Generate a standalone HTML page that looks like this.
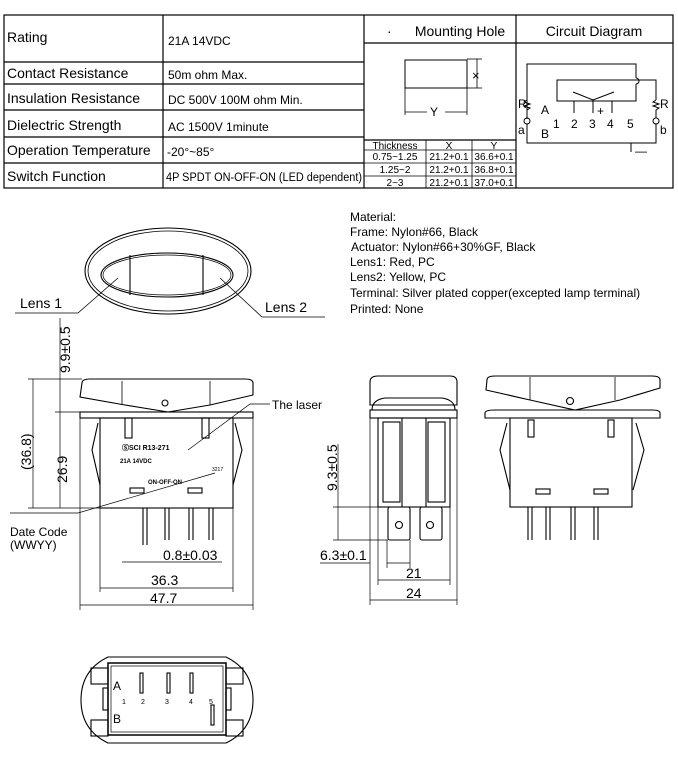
<!DOCTYPE html>
<html><head><meta charset="utf-8"><style>
html,body{margin:0;padding:0;background:#fff;}
svg{display:block;font-family:"Liberation Sans",Arial,sans-serif;}
</style></head><body>
<svg width="678" height="763" viewBox="0 0 678 763" xmlns="http://www.w3.org/2000/svg">
<g stroke="#000" fill="none" stroke-width="1.2">
<!-- table -->
<rect x="4" y="15" width="669" height="173"/>
<line x1="163" y1="15" x2="163" y2="188"/>
<line x1="364" y1="15" x2="364" y2="188"/>
<line x1="516" y1="15" x2="516" y2="188"/>
<line x1="4" y1="62" x2="364" y2="62"/>
<line x1="4" y1="84" x2="364" y2="84"/>
<line x1="4" y1="110" x2="364" y2="110"/>
<line x1="4" y1="137" x2="364" y2="137"/>
<line x1="4" y1="163" x2="364" y2="163"/>
<line x1="364" y1="43" x2="673" y2="43"/>
<line x1="364" y1="140" x2="516" y2="140"/>
<line x1="364" y1="150" x2="516" y2="150" stroke-width="0.8"/>
<line x1="364" y1="163" x2="516" y2="163" stroke-width="0.8"/>
<line x1="364" y1="176" x2="516" y2="176" stroke-width="0.8"/>
<line x1="426" y1="140" x2="426" y2="188" stroke-width="0.8"/>
<line x1="472" y1="140" x2="472" y2="188" stroke-width="0.8"/>
<!-- mounting hole -->
<rect x="405" y="60" width="62" height="28" stroke-width="1"/>
<line x1="467" y1="59" x2="482" y2="59" stroke-width="0.8"/>
<line x1="467" y1="88" x2="482" y2="88" stroke-width="0.8"/>
<line x1="477" y1="59" x2="477" y2="88" stroke-width="0.8"/>
<line x1="405" y1="88" x2="405" y2="115" stroke-width="0.8"/>
<line x1="467" y1="88" x2="467" y2="115" stroke-width="0.8"/>
<line x1="405" y1="112" x2="427" y2="112" stroke-width="0.8"/>
<line x1="445" y1="112" x2="467" y2="112" stroke-width="0.8"/>
<!-- circuit -->
<g stroke-width="1">
<polyline points="527,119 527,64 636,64 636,78"/>
<path d="M636,78 a3,3 0 0 1 0,6"/>
<polyline points="636,84 636,101 557,101 557,80 656,80 656,100"/>
<polyline points="656,100 653,102 659,104 653,106 659,108 656,110 656,118"/>
<polyline points="527,100 524,102 530,104 524,106 530,108 527,110"/>
<circle cx="527" cy="121" r="3"/><circle cx="656" cy="121" r="3"/>
<polyline points="527,124 527,143 656,143 656,124"/>
<line x1="631" y1="143" x2="631" y2="152"/>
<polyline points="573,92 593,100 614,92"/>
<line x1="574" y1="101" x2="574" y2="113"/><line x1="593" y1="100" x2="593" y2="113"/><line x1="612" y1="101" x2="612" y2="113"/>
</g>
</g>
<g font-size="14" fill="#000">
<text x="7" y="42">Rating</text>
<text x="7" y="78">Contact Resistance</text>
<text x="7" y="103">Insulation Resistance</text>
<text x="7" y="130">Dielectric Strength</text>
<text x="7" y="155">Operation Temperature</text>
<text x="7" y="181">Switch Function</text>
<text x="460" y="36" text-anchor="middle">Mounting Hole</text>
<text x="387" y="36">·</text>
<text x="594" y="36" text-anchor="middle">Circuit Diagram</text>
</g>
<g font-size="12" fill="#000">
<text x="168" y="45">21A 14VDC</text>
<text x="168" y="79">50m ohm Max.</text>
<text x="168" y="104">DC 500V 100M ohm Min.</text>
<text x="168" y="131">AC 1500V 1minute</text>
<text x="167" y="156">-20°~85°</text>
<text x="166" y="181" font-size="11.5" textLength="196" lengthAdjust="spacingAndGlyphs">4P SPDT ON-OFF-ON (LED dependent)</text>
<text x="472" y="80" font-size="13">×</text>
<text x="430" y="116" font-size="12">Y</text>
</g>
<g font-size="10" fill="#000" text-anchor="middle">
<text x="395" y="149">Thickness</text><text x="449" y="149">X</text><text x="494" y="149">Y</text>
<text x="395" y="160">0.75~1.25</text><text x="449" y="160">21.2+0.1</text><text x="494" y="160">36.6+0.1</text>
<text x="395" y="173">1.25~2</text><text x="449" y="173">21.2+0.1</text><text x="494" y="173">36.8+0.1</text>
<text x="395" y="186">2~3</text><text x="449" y="186">21.2+0.1</text><text x="494" y="186">37.0+0.1</text>
</g>
<g font-size="12" fill="#000">
<text x="518" y="108">R</text><text x="660" y="108">R</text>
<text x="541" y="114">A</text><text x="541" y="138">B</text>
<text x="518" y="134">a</text><text x="660" y="134">b</text>
<text x="553" y="128">1</text><text x="571" y="128">2</text><text x="589" y="128">3</text><text x="607" y="128">4</text><text x="627" y="128">5</text>
<text x="597" y="115">+</text><text x="635" y="155">—</text>
</g>
<!-- material -->
<g font-size="12" fill="#000">
<text x="350" y="221">Material:</text>
<text x="350" y="236">Frame: Nylon#66, Black</text>
<text x="351" y="251">Actuator: Nylon#66+30%GF, Black</text>
<text x="350" y="266">Lens1: Red, PC</text>
<text x="350" y="281">Lens2: Yellow, PC</text>
<text x="350" y="297">Terminal: Silver plated copper(excepted lamp terminal)</text>
<text x="350" y="313">Printed: None</text>
</g>
<g stroke="#000" fill="none" stroke-width="1.1">
<!-- top view -->
<ellipse cx="168" cy="271" rx="83" ry="43"/>
<ellipse cx="168" cy="271" rx="80" ry="40" stroke-width="0.8"/>
<ellipse cx="167" cy="275" rx="66" ry="22"/>
<ellipse cx="167" cy="275" rx="64" ry="20" stroke-width="0.7"/>
<line x1="130" y1="255" x2="130" y2="295"/><line x1="203" y1="255" x2="203" y2="295"/>
<polyline points="15,313 78,313 118,278" stroke-width="0.8"/>
<polyline points="325,317 262,317 220,278" stroke-width="0.8"/>
<!-- front view -->
<path d="M82,383 Q82,379 90,379 L245,379 Q253,379 253,383 L253,395 L210,405 L168,412 L125,405 L80,397 Z"/>
<line x1="122" y1="381" x2="122" y2="405" stroke-width="0.8"/><line x1="210" y1="381" x2="210" y2="405" stroke-width="0.8"/>
<circle cx="165" cy="403" r="3"/>
<rect x="80" y="412" width="173" height="6"/>
<rect x="100" y="418" width="133" height="90"/>
<rect x="125" y="418" width="7" height="20"/><rect x="202" y="418" width="7" height="20"/>
<path d="M98,423 L92,450 L100,485" /><path d="M235,423 L242,450 L233,485"/>
<rect x="130" y="488" width="14" height="5"/><rect x="188" y="488" width="14" height="5"/>
<line x1="143" y1="508" x2="143" y2="545"/><line x1="147" y1="508" x2="147" y2="545"/>
<line x1="165" y1="508" x2="165" y2="540"/><line x1="169" y1="508" x2="169" y2="540"/>
<line x1="189" y1="508" x2="189" y2="540"/><line x1="193" y1="508" x2="193" y2="540"/>
<line x1="209" y1="508" x2="209" y2="540"/><line x1="213" y1="508" x2="213" y2="540"/>
<g stroke-width="0.7">
<line x1="60" y1="318" x2="60" y2="508"/>
<line x1="33" y1="379" x2="33" y2="508"/>
<line x1="28" y1="379" x2="82" y2="379"/>
<line x1="55" y1="412" x2="80" y2="412"/>
<line x1="28" y1="508" x2="100" y2="508"/>
<line x1="80" y1="418" x2="80" y2="610"/><line x1="253" y1="418" x2="253" y2="610"/>
<line x1="100" y1="508" x2="100" y2="592"/><line x1="233" y1="508" x2="233" y2="592"/>
<line x1="100" y1="588" x2="233" y2="588"/>
<line x1="80" y1="605" x2="253" y2="605"/>
<line x1="122" y1="562" x2="222" y2="562"/>
<polyline points="270,404 250,404 188,450"/>
<polyline points="10,513 78,513 215,473"/>
</g>
<!-- side view -->
<path d="M370,382 Q370,376 378,376 L450,376 Q457,376 457,382 L457,405 L370,405 Z"/>
<path d="M372,410 Q372,400 385,398 L442,398 Q455,400 455,410"/>
<rect x="370" y="410" width="87" height="8"/>
<rect x="378" y="418" width="72" height="89"/>
<rect x="383" y="422" width="17" height="80"/><rect x="428" y="422" width="17" height="80"/>
<line x1="402" y1="418" x2="402" y2="507"/><line x1="426" y1="418" x2="426" y2="507"/>
<rect x="388" y="507" width="22" height="33" rx="2"/><rect x="420" y="507" width="22" height="33" rx="2"/>
<circle cx="399" cy="525" r="3.5"/><circle cx="430" cy="525" r="3.5"/>
<g stroke-width="0.7">
<line x1="338" y1="444" x2="338" y2="540"/>
<line x1="333" y1="507" x2="378" y2="507"/>
<line x1="333" y1="540" x2="388" y2="540"/>
<line x1="320" y1="563" x2="370" y2="563"/>
<line x1="387" y1="540" x2="387" y2="568"/><line x1="410" y1="540" x2="410" y2="568"/>
<line x1="387" y1="563" x2="410" y2="563"/>
<line x1="378" y1="507" x2="378" y2="585"/><line x1="450" y1="507" x2="450" y2="585"/>
<line x1="370" y1="418" x2="370" y2="605"/><line x1="457" y1="418" x2="457" y2="605"/>
<line x1="378" y1="580" x2="450" y2="580"/>
<line x1="370" y1="600" x2="457" y2="600"/>
</g>
<!-- back view -->
<path d="M487,380 Q487,376 495,376 L652,376 Q660,376 660,380 L660,388 L620,400 L575,410 L530,400 L486,390 Z"/>
<line x1="530" y1="377" x2="530" y2="400" stroke-width="0.8"/><line x1="615" y1="377" x2="615" y2="400" stroke-width="0.8"/>
<circle cx="570" cy="401" r="3.5"/>
<path d="M485,418 L485,413 Q485,410 495,410 L652,410 Q660,410 660,413 L660,418 Z"/>
<rect x="510" y="418" width="122" height="89"/>
<rect x="528" y="420" width="6" height="17"/><rect x="608" y="420" width="6" height="17"/>
<path d="M507,423 L500,450 L510,490"/><path d="M636,423 L644,450 L633,490"/>
<rect x="536" y="489" width="14" height="5"/><rect x="594" y="489" width="14" height="5"/>
<line x1="528" y1="507" x2="528" y2="540"/><line x1="532" y1="507" x2="532" y2="540"/>
<line x1="546" y1="507" x2="546" y2="540"/><line x1="550" y1="507" x2="550" y2="540"/>
<line x1="571" y1="507" x2="571" y2="540"/><line x1="575" y1="507" x2="575" y2="540"/>
<line x1="594" y1="507" x2="594" y2="540"/><line x1="598" y1="507" x2="598" y2="540"/>
<!-- bottom view -->
<path d="M108,657 L226,657 Q253,670 253,700 Q253,730 226,743 L108,743 Q81,730 81,700 Q81,670 108,657 Z"/>
<rect x="108" y="663" width="118" height="72" stroke-width="1.5"/>
<rect x="111" y="666" width="112" height="66" stroke-width="0.7"/>
<rect x="91" y="668" width="17" height="16"/><rect x="91" y="720" width="17" height="16"/>
<rect x="226" y="668" width="17" height="16"/><rect x="226" y="720" width="17" height="16"/>
<rect x="103" y="688" width="5" height="22"/><rect x="226" y="688" width="5" height="22"/>
<rect x="140" y="673" width="3" height="20"/><rect x="167" y="673" width="3" height="20"/><rect x="190" y="673" width="3" height="20"/><rect x="211" y="705" width="3" height="20"/>
</g>
<g fill="#000">
<text x="20" y="308" font-size="14">Lens 1</text>
<text x="265" y="312" font-size="14">Lens 2</text>
<text x="272" y="409" font-size="12">The laser</text>
<text x="10" y="536" font-size="12">Date Code</text>
<text x="10" y="549" font-size="12">(WWYY)</text>
<text x="163" y="560" font-size="14">0.8±0.03</text>
<text x="151" y="585" font-size="14">36.3</text>
<text x="150" y="603" font-size="14">47.7</text>
<text font-size="14" transform="translate(70,373) rotate(-90)">9.9±0.5</text>
<text font-size="14" transform="translate(31,470) rotate(-90)">(36.8)</text>
<text font-size="14" transform="translate(67,483) rotate(-90)">26.9</text>
<text font-size="14" transform="translate(337,491) rotate(-90)">9.3±0.5</text>
<text x="320" y="560" font-size="14">6.3±0.1</text>
<text x="406" y="578" font-size="14">21</text>
<text x="406" y="598" font-size="14">24</text>
<text x="122" y="450" font-size="7" font-weight="bold">ⓈSCI R13-271</text>
<text x="120" y="463" font-size="6" font-weight="bold">21A 14VDC</text>
<text x="148" y="484" font-size="6" font-weight="bold">ON-OFF-ON</text>
<text x="212" y="471" font-size="5">3217</text>
<text x="113" y="690" font-size="12">A</text>
<text x="113" y="723" font-size="12">B</text>
<text x="122" y="704" font-size="7">1</text><text x="141" y="704" font-size="7">2</text><text x="165" y="704" font-size="7">3</text><text x="189" y="704" font-size="7">4</text><text x="209" y="704" font-size="7">5</text>
</g>
</svg>
</body></html>
